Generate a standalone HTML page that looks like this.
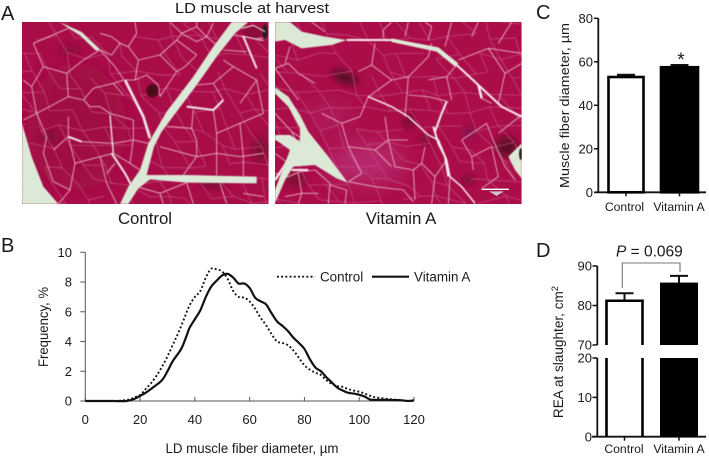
<!DOCTYPE html>
<html><head><meta charset="utf-8"><title>LD muscle figure</title>
<style>
html,body{margin:0;padding:0;background:#fff}
svg{display:block}
text{font-family:"Liberation Sans",sans-serif;fill:#1a1a1a}
</style></head>
<body>
<svg id="fig" xmlns="http://www.w3.org/2000/svg" width="709" height="459" viewBox="0 0 709 459">
<defs>
<clipPath id="clipA"><rect x="66" y="66" width="740" height="546"/></clipPath>
<clipPath id="clipV"><rect x="30" y="66" width="740" height="546"/></clipPath>
<filter id="soft" x="-5%" y="-5%" width="110%" height="110%"><feGaussianBlur stdDeviation="1.3"/></filter>
<filter id="blur" x="-50%" y="-50%" width="200%" height="200%"><feGaussianBlur stdDeviation="12"/></filter>
<filter id="blur2" x="-50%" y="-50%" width="200%" height="200%"><feGaussianBlur stdDeviation="35"/></filter>
</defs>

<text x="1" y="20" font-size="20">A</text>
<text x="1" y="252" font-size="20">B</text>
<text x="536" y="19" font-size="20">C</text>
<text x="536" y="257" font-size="20">D</text>
<text x="175" y="13" font-size="15" textLength="154" lengthAdjust="spacingAndGlyphs">LD muscle at harvest</text>
<text x="145" y="224" font-size="16.8" text-anchor="middle">Control</text>
<text x="401" y="224" font-size="16.8" text-anchor="middle">Vitamin A</text>

<g transform="scale(0.33333)" clip-path="url(#clipA)">
<rect x="66" y="66" width="740" height="546" fill="#a90d48"/>
<ellipse cx="230" cy="380" rx="150" ry="190" fill="#a00b42" filter="url(#blur2)"/>
<ellipse cx="640" cy="550" rx="40" ry="12" fill="#6e0a2e" filter="url(#blur)"/>
<ellipse cx="780" cy="450" rx="22" ry="40" fill="#7a0a30" filter="url(#blur)"/>
<ellipse cx="150" cy="410" rx="30" ry="14" fill="#7f0c38" filter="url(#blur)"/>
<ellipse cx="210" cy="150" rx="30" ry="14" fill="#870c3a" filter="url(#blur)"/>
<g id="texA"></g>
<g fill="none" stroke="#e8b4c8" stroke-width="2.6" stroke-linejoin="round" filter="url(#soft)">
<path d="M300,150 L345,200 L372,240 M360,130 L385,140 L410,100 L405,66 M385,140 L415,180 L405,240 L375,240 M300,100 L335,110 L360,130 L335,165 L300,150"/>
<path d="M415,180 L480,165 L530,120 L545,100 L510,66 M480,165 L530,215 L480,290 L475,255 L440,225 L405,240 M530,120 L590,165 L555,200 L530,215"/>
<path d="M545,100 L590,125 L620,110 L590,80 L545,100 M620,110 L650,135 M590,66 L590,80 M640,70 L620,110 M700,105 L730,110 L790,115 M670,150 L740,155"/>
<path d="M580,330 L575,385 L590,420 M640,330 L650,400 M500,380 L575,385 M650,400 L720,370 L790,340 M590,470 L650,460 L720,470 L790,460 M590,420 L590,470 L550,525 M650,400 L650,460 L650,525 M720,370 L730,470 L730,530 M480,440 L590,470"/>
<path d="M250,300 L280,265 L340,250 L372,240 M340,250 L370,285 M330,340 L300,320 L270,320 L250,300 M200,220 L205,290 L250,300 M200,220 L250,180 L300,150"/>
<path d="M100,130 L130,200 L95,260 L70,240 M130,200 L200,220 M100,130 L170,100 L205,85 M95,260 L110,340 L70,360 M110,340 L205,290 M110,340 L140,410 L130,460 M245,425 L340,430 M205,350 L205,410 L160,450 M205,410 L225,490 L300,470 L340,460 M225,490 L210,570 L175,612 M130,460 L160,545 L210,570 M300,470 L320,550 L350,612 M320,520 L345,490"/>
<path d="M330,340 L400,360 M340,430 L400,420 L445,430 M400,360 L400,420 L390,490 L420,510 M340,460 L390,490 M410,560 L480,580 L490,612 M480,580 L560,548 L580,612 M660,550 L680,612 M730,580 L790,590 M700,200 L770,240 L720,310 M590,255 L640,250 L700,200 M640,250 L670,300 M770,240 L790,340 M670,180 L700,200"/>
</g>
<g fill="none" stroke="#f4e6ea" stroke-linejoin="round" filter="url(#soft)">
<path stroke-width="8" d="M375,240 L400,290 L430,350 L450,415"/>
<path stroke-width="6" d="M335,460 L375,520 L392,552"/>
<path stroke-width="4" d="M330,345 L340,460"/>
<path stroke-width="6" d="M205,410 L245,425"/>
<path stroke-width="6" d="M560,320 L640,330 L670,300"/>
<path stroke-width="6" d="M730,110 L770,205"/>
</g>
<g fill="#dbe9d6" filter="url(#soft)">
<polygon points="66,370 95,470 130,560 175,612 66,612"/>
<polygon points="178,66 245,96 302,150 288,152 240,106 205,84"/>
<polygon points="695,66 745,66 705,100 650,170 590,255 530,335 485,395 462,440 440,525 560,525 770,530 770,550 560,548 450,538 415,565 385,612 360,612 385,560 420,510 445,430 500,335 580,230 640,140"/>
</g>
<ellipse cx="758" cy="96" rx="30" ry="20" fill="#8c0c3a" filter="url(#soft)"/>
<ellipse cx="795" cy="95" rx="8" ry="22" fill="#2a1a1a" filter="url(#soft)"/>
<path d="M725,85 L760,76 L795,95 M725,108 L790,122" fill="none" stroke="#f0e6e6" stroke-width="3" filter="url(#soft)"/>
<ellipse cx="457" cy="272" rx="18" ry="20" fill="#4a0a1c" filter="url(#soft)"/>
</g>

<g transform="translate(265 0) scale(0.33333)" clip-path="url(#clipV)">
<rect x="30" y="66" width="740" height="546" fill="#ab0d49"/>
<ellipse cx="300" cy="490" rx="120" ry="60" fill="#b82a70" filter="url(#blur2)"/>
<ellipse cx="190" cy="350" rx="60" ry="40" fill="#b02264" filter="url(#blur2)"/>
<ellipse cx="240" cy="232" rx="44" ry="16" transform="rotate(22 240 232)" fill="#4e0a22" filter="url(#blur)"/>
<ellipse cx="432" cy="365" rx="14" ry="18" fill="#5e0a2a" filter="url(#blur)"/>
<ellipse cx="725" cy="440" rx="34" ry="30" fill="#5e0a28" filter="url(#blur)"/>
<ellipse cx="612" cy="400" rx="18" ry="18" fill="#7c1452" filter="url(#blur)"/>
<ellipse cx="610" cy="540" rx="16" ry="14" fill="#6e0a30" filter="url(#blur)"/>
<ellipse cx="480" cy="420" rx="20" ry="14" fill="#7a0c34" filter="url(#blur)"/>
<ellipse cx="90" cy="540" rx="34" ry="24" fill="#840c38" filter="url(#blur)"/>
<g id="texV"></g>
<g fill="none" stroke="#e8b4c8" stroke-width="2.6" stroke-linejoin="round" filter="url(#soft)">
<path d="M640,255 L650,295 L680,310 M665,370 L680,410 L720,500 L750,540 M620,470 L680,440 L700,530 L650,565 M620,470 L625,510"/>
<path d="M280,215 L320,195 L380,240 L310,290 L285,350 M320,195 L330,130 M380,240 L430,230 L490,170 M430,230 L420,350 M490,170 L500,130 M490,240 L545,230 L575,195 M430,285 L490,290 L550,305 M545,230 L560,300 M580,180 L670,145 L770,160 M670,145 L720,220 L770,190 M720,220 L700,310"/>
<path d="M150,250 L100,220 L70,190 L30,205 M75,140 L60,190 M285,350 L230,370 L170,340 M230,370 L250,440 L330,450 L370,420 L430,420 M360,350 L370,420 L390,500 L445,510 L450,600 M250,545 L330,560 L415,570 L445,605 M250,440 L290,520 L250,545 M330,450 L380,500 M480,440 L470,490 L510,530 L545,480 M470,490 L445,510 M510,530 L500,612 M555,530 L550,612"/>
<path d="M355,115 L355,90 L380,66 M180,95 L140,66 M420,110 L430,66 M490,120 L500,80 L480,66 M540,140 L560,66 M620,110 L640,66 M700,130 L740,66 M30,460 L70,490 L115,465 L155,485 M30,520 L70,530 L105,515 L150,510 L195,550 L190,612 M100,520 L110,580 L100,612 M60,590 L110,580 L160,580 M195,555 L245,570 L240,612 M80,395 L110,415 L95,430 L80,395 M30,340 L80,395 M30,205 L100,300 M700,400 L770,345 M590,420 L665,370 M590,420 L620,470"/>
</g>
<g fill="none" stroke="#f6ecee" stroke-linejoin="round" filter="url(#soft)">
<path stroke-width="4.5" d="M310,290 L380,320 L430,350 L490,405 L520,420 L545,480 L555,530 L590,560 L630,610"/>
<path stroke-width="6" d="M510,395 L530,340 L545,305 M505,380 L520,430 L540,470 L550,530"/>
<path stroke-width="6" d="M245,120 L380,120 L520,148 L575,195 L640,255 L710,320 L770,350"/>
<path stroke-width="7" d="M70,480 L30,540 M130,510 L80,510 M640,255 L650,295"/>
</g>
<g fill="#dbe9d6" filter="url(#soft)">
<polygon points="30,66 75,66 110,95 180,110 245,120 200,135 110,145 60,120 30,125"/>
<polygon points="380,116 520,142 580,190 570,200 515,155 380,126"/>
<polygon points="30,262 70,290 105,345 130,395 190,470 248,548 215,535 150,495 85,500 60,540 30,610 30,570 60,490 75,450 40,425 30,420 30,405 75,405 105,425 105,385 70,320 30,280"/>
<polygon points="730,470 770,430 770,535 750,510"/>
</g>
<ellipse cx="768" cy="462" rx="6" ry="18" fill="#2a1a1a" filter="url(#soft)"/>
<path d="M650,568 H732" stroke="#fff" stroke-width="4" fill="none"/>
<polygon points="672,574 716,574 695,588" fill="#cfc4cc"/>
</g>

<g id="panelB"></g>
<g id="panelC"></g>
<g id="panelD"></g>
</svg>

<script>
// Panel B data
var bXTicks = [0, 20, 40, 60, 80, 100, 120];
var bYTicks = [0, 2, 4, 6, 8, 10];
var controlDiameter = [0,10,13,16,18,20,22,24,26,28,30,32,34,36,38,40,42,44,46,48,50,52,54,56,58,60,62,64,66,68,70,72,74,76,78,80,82,84,86,88,90,92,94,96,98,100,102,104,106,110,115,118,120];
var controlFrequency = [0,0,0.03,0.1,0.25,0.4,0.8,1.2,1.7,2.3,3.0,3.8,4.6,5.5,6.4,7.0,7.4,8.3,8.9,8.85,8.7,8.2,7.4,7.0,6.95,6.7,6.2,5.6,5.1,4.5,4.0,3.9,3.75,3.4,2.9,2.4,2.1,1.9,1.75,1.4,1.15,1.0,0.95,0.8,0.7,0.62,0.5,0.35,0.25,0.15,0.05,0,0];
var vitaminDiameter = [0,10,15,18,20,22,25,28,30,32,35,37,38,40,42,44,46,48,50,52,54,56,58,60,62,64,66,68,70,72,74,76,78,80,82,84,86,88,90,92,94,96,98,100,102,104,106,110,115,118,120];
var vitaminFrequency = [0,0,0,0.15,0.35,0.55,0.95,1.4,2.0,2.7,3.5,4.4,4.9,5.5,6.1,7.0,7.7,8.1,8.45,8.55,8.3,7.9,7.9,7.6,6.95,6.7,6.5,5.9,5.35,5.05,4.7,4.25,3.9,3.5,2.8,2.25,2.0,1.6,1.25,0.9,0.7,0.55,0.5,0.42,0.3,0.1,0.08,0.08,0.05,0,0.05];
// Panel C data
var cCategories = ['Control', 'Vitamin A'];
var cValues = [53, 57.5];
var cErrors = [1, 1];
var cYTicks = [0, 20, 40, 60, 80];
// Panel D data
var dCategories = ['Control', 'Vitamin A'];
var dValues = [81.2, 85.8];
var dErrors = [1.9, 1.7];
var dLowTicks = [0, 10, 20];
var dHighTicks = [70, 80, 90];

var NS = 'http://www.w3.org/2000/svg';
function mk(parent, tag, attrs, txt) {
  var el = document.createElementNS(NS, tag);
  for (var k in attrs) el.setAttribute(k, attrs[k]);
  if (txt !== undefined) el.textContent = txt;
  parent.appendChild(el);
  return el;
}
function smooth(pts) {
  var d = 'M' + pts[0][0].toFixed(2) + ',' + pts[0][1].toFixed(2);
  for (var i = 0; i < pts.length - 1; i++) {
    var p0 = pts[Math.max(i - 1, 0)], p1 = pts[i], p2 = pts[i + 1], p3 = pts[Math.min(i + 2, pts.length - 1)];
    d += ' C' + (p1[0] + (p2[0] - p0[0]) / 6).toFixed(2) + ',' + (p1[1] + (p2[1] - p0[1]) / 6).toFixed(2) +
      ' ' + (p2[0] - (p3[0] - p1[0]) / 6).toFixed(2) + ',' + (p2[1] - (p3[1] - p1[1]) / 6).toFixed(2) +
      ' ' + p2[0].toFixed(2) + ',' + p2[1].toFixed(2);
  }
  return d;
}

/* ---------- Micrograph fibre texture (decorative photo stand-in, not chart data) ---------- */
function fiberTexture(id, seed, x0, x1) {
  var g = document.getElementById(id);
  function h(a, b) { var s = Math.sin(a * 12.9898 + b * 78.233 + seed) * 43758.5453; return s - Math.floor(s); }
  var w = 62, r = 54, d = '';
  function vx(i, j) { return [x0 + i * w + (j % 2 ? w / 2 : 0) + (h(i, j) - 0.5) * 30, 60 + j * r + (h(j + 40, i) - 0.5) * 26]; }
  for (var j = 0; j < 11; j++) {
    for (var i = -1; i < Math.ceil((x1 - x0) / w) + 1; i++) {
      var a = vx(i, j), b = vx(i + 1, j), c = vx(i + (j % 2 ? 1 : 0), j + 1);
      if (h(i + 7, j + 3) > 0.3) d += 'M' + a[0].toFixed(0) + ',' + a[1].toFixed(0) + 'L' + b[0].toFixed(0) + ',' + b[1].toFixed(0);
      if (h(i + 13, j + 9) > 0.3) d += 'M' + a[0].toFixed(0) + ',' + a[1].toFixed(0) + 'L' + c[0].toFixed(0) + ',' + c[1].toFixed(0);
    }
  }
  mk(g, 'path', { d: d, fill: 'none', stroke: '#c4517f', 'stroke-width': 2, filter: 'url(#soft)' });
}
fiberTexture('texA', 1.7, 66, 806);
fiberTexture('texV', 4.3, 30, 770);

/* ---------- Panel B ---------- */
(function () {
  var g = document.getElementById('panelB');
  var bx = function (v) { return 85.3 + v * (414 - 85.3) / 120; };
  var by = function (v) { return 401 - v * (401 - 252.3) / 10; };
  var el;
  el = mk(g, 'path', { d: 'M' + bx(0) + ',' + by(10) + ' V' + by(0) + ' H' + bx(120), fill: 'none', stroke: '#555', 'stroke-width': 1 });
  
  
  bXTicks.forEach(function (t) {
    var tk = mk(g, 'line', { x1: bx(t), x2: bx(t), y1: by(0), y2: by(0) - 4, stroke: '#555', 'stroke-width': 1 });
    
    
    var lb = mk(g, 'text', { x: bx(t), y: 424, 'font-size': 13, 'text-anchor': 'middle' }, t);
    
    
  });
  bYTicks.forEach(function (t) {
    var tk = mk(g, 'line', { x1: bx(0) - 5, x2: bx(0), y1: by(t), y2: by(t), stroke: '#555', 'stroke-width': 1 });
    
    
    var lb = mk(g, 'text', { x: 72, y: by(t) + 4.5, 'font-size': 13, 'text-anchor': 'end' }, t);
    
    
  });
  var line1 = mk(g, 'path', {
    d: smooth(controlDiameter.map(function (x, i) { return [bx(x), by(controlFrequency[i])]; })),
    fill: 'none', stroke: '#111', 'stroke-width': 1.9, 'stroke-dasharray': '1.9 2.3'
  });
  
  
  var line2 = mk(g, 'path', {
    d: smooth(vitaminDiameter.map(function (x, i) { return [bx(x), by(vitaminFrequency[i])]; })),
    fill: 'none', stroke: '#111', 'stroke-width': 2.2, 'stroke-linejoin': 'round'
  });
  
  
  var k1 = mk(g, 'line', { x1: 277, x2: 315, y1: 276.7, y2: 276.7, stroke: '#111', 'stroke-width': 1.9, 'stroke-dasharray': '1.9 2.3' });
  
  
  var t1 = mk(g, 'text', { x: 320, y: 281.5, 'font-size': 13.4 }, 'Control');
  
  
  var k2 = mk(g, 'line', { x1: 372, x2: 409, y1: 276.7, y2: 276.7, stroke: '#111', 'stroke-width': 2.2 });
  
  
  var t2 = mk(g, 'text', { x: 414, y: 281.5, 'font-size': 13.4 }, 'Vitamin A');
  
  
  var xt = mk(g, 'text', { x: 252, y: 453, 'font-size': 13.5, 'text-anchor': 'middle', textLength: 173, lengthAdjust: 'spacingAndGlyphs' }, 'LD muscle fiber diameter, µm');
  
  
  var yt = mk(g, 'text', { x: 0, y: 0, transform: 'translate(48 327) rotate(-90)', 'font-size': 13.5, 'text-anchor': 'middle', textLength: 80, lengthAdjust: 'spacingAndGlyphs' }, 'Frequency, %');
  
  
})();

/* ---------- Panel C ---------- */
(function () {
  var g = document.getElementById('panelC');
  var cy = function (v) { return 192.3 - v * (192.3 - 18.3) / 80; };
  var bars = [[608.5, 643.5], [661, 698]];
  var el;
  el = mk(g, 'path', { d: 'M598.3,' + cy(80) + ' V' + cy(0) + ' M595,' + cy(0) + ' H706', fill: 'none', stroke: '#111', 'stroke-width': 1.8 });
  
  
  cYTicks.forEach(function (t) {
    var tk = mk(g, 'line', { x1: 594, x2: 598.3, y1: cy(t), y2: cy(t), stroke: '#111', 'stroke-width': 1.5 });
    
    
    var lb = mk(g, 'text', { x: 593, y: cy(t) + 4.7, 'font-size': 13, 'text-anchor': 'end' }, t);
    
    
  });
  cCategories.forEach(function (c, i) {
    var l = bars[i][0], r = bars[i][1], mid = (l + r) / 2;
    var err = mk(g, 'path', { d: 'M' + mid + ',' + cy(cValues[i]) + ' V' + cy(cValues[i] + cErrors[i]) + ' M' + (mid - 9) + ',' + cy(cValues[i] + cErrors[i]) + ' H' + (mid + 9), stroke: '#111', 'stroke-width': 2.2, fill: 'none' });
    
    
    var bar = mk(g, 'rect', { x: l, y: cy(cValues[i]), width: r - l, height: cy(0) - cy(cValues[i]), fill: i ? '#000' : '#fff', stroke: '#000', 'stroke-width': 2.6 });
    
    
    var tk = mk(g, 'line', { x1: mid, x2: mid, y1: cy(0), y2: cy(0) + 4, stroke: '#111', 'stroke-width': 1.5 });
    
    
    var lb = mk(g, 'text', { x: i ? 679 : 624.5, y: 211, 'font-size': 12.2, 'text-anchor': 'middle' }, c);
    
    
  });
  var star = mk(g, 'text', { x: 681, y: 66, 'font-size': 19, 'text-anchor': 'middle' }, '*');
  
  
  var yt = mk(g, 'text', { x: 0, y: 0, transform: 'translate(569 105.5) rotate(-90)', 'font-size': 13, 'text-anchor': 'middle', textLength: 165, lengthAdjust: 'spacingAndGlyphs' }, 'Muscle fiber diameter, µm');
  
  
})();

/* ---------- Panel D ---------- */
(function () {
  var g = document.getElementById('panelD');
  var lowY = function (v) { return 436.7 - v * (436.7 - 358) / 20; };
  var highY = function (v) { return 345 - (v - 70) * (345 - 266) / 20; };
  var bars = [[606.5, 642.5], [660, 698]];
  var el;
  el = mk(g, 'path', { d: 'M597.3,' + highY(90) + ' V' + highY(70) + ' M597.3,' + lowY(20) + ' V' + lowY(0) + ' M592,' + lowY(0) + ' H706', fill: 'none', stroke: '#111', 'stroke-width': 1.8 });
  
  
  dHighTicks.forEach(function (t) {
    var tk = mk(g, 'line', { x1: 592.5, x2: 597.3, y1: highY(t), y2: highY(t), stroke: '#111', 'stroke-width': 1.5 });
    
    
    var lb = mk(g, 'text', { x: 592, y: highY(t) + 4.7, 'font-size': 13, 'text-anchor': 'end' }, t);
    
    
  });
  dLowTicks.forEach(function (t) {
    var tk = mk(g, 'line', { x1: 592.5, x2: 597.3, y1: lowY(t), y2: lowY(t), stroke: '#111', 'stroke-width': 1.5 });
    
    
    var lb = mk(g, 'text', { x: 592, y: lowY(t) + 4.7, 'font-size': 13, 'text-anchor': 'end' }, t);
    
    
  });
  dCategories.forEach(function (c, i) {
    var l = bars[i][0], r = bars[i][1], mid = (l + r) / 2;
    var v = dValues[i], top = highY(v), errTop = highY(v + dErrors[i]);
    var err = mk(g, 'path', { d: 'M' + mid + ',' + top + ' V' + errTop + ' M' + (mid - 9) + ',' + errTop + ' H' + (mid + 9), stroke: '#111', 'stroke-width': 2, fill: 'none' });
    
    
    var upper, lower;
    if (i === 0) {
      upper = mk(g, 'path', { d: 'M' + l + ',' + highY(70) + ' V' + top + ' H' + r + ' V' + highY(70), fill: '#fff', stroke: '#000', 'stroke-width': 2.6 });
      lower = mk(g, 'path', { d: 'M' + l + ',' + lowY(20) + ' V' + lowY(0) + ' M' + r + ',' + lowY(20) + ' V' + lowY(0), fill: 'none', stroke: '#000', 'stroke-width': 2.6 });
    } else {
      upper = mk(g, 'rect', { x: l, y: top, width: r - l, height: highY(70) - top, fill: '#000' });
      lower = mk(g, 'rect', { x: l, y: lowY(20), width: r - l, height: lowY(0) - lowY(20), fill: '#000' });
    }
    
    
    
    
    var tk = mk(g, 'line', { x1: mid, x2: mid, y1: lowY(0), y2: lowY(0) + 4, stroke: '#111', 'stroke-width': 1.5 });
    
    
    var lb = mk(g, 'text', { x: i ? 679 : 624, y: 453, 'font-size': 12.2, 'text-anchor': 'middle' }, c);
    
    
  });
  var br = mk(g, 'path', { d: 'M622.3,288 V263 H680 V272', fill: 'none', stroke: '#777', 'stroke-width': 1.1 });
  
  
  var p = mk(g, 'text', { x: 616, y: 256.7, 'font-size': 15.5 });
  
  
  mk(p, 'tspan', { 'font-style': 'italic' }, 'P');
  mk(p, 'tspan', {}, ' = 0.069');
  var yt = mk(g, 'text', { x: 0, y: 0, transform: 'translate(563 352) rotate(-90)', 'font-size': 13.6, 'text-anchor': 'middle' });
  
  
  mk(yt, 'tspan', {}, 'REA at slaughter, cm');
  mk(yt, 'tspan', { 'font-size': 9.5, dy: -5 }, '2');
})();
</script>
</body></html>
